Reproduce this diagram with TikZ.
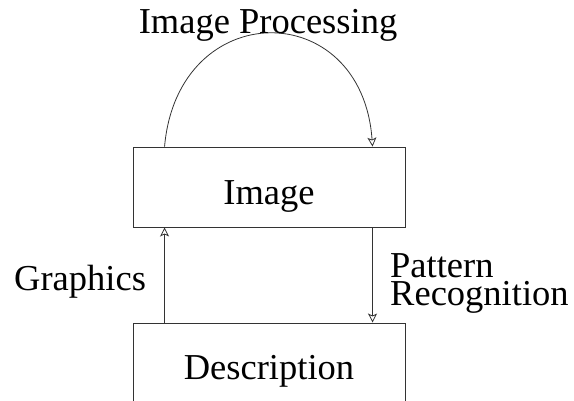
\documentclass[tikz,border=0pt]{standalone}
\usepackage{fontspec}
\setmainfont{Liberation Serif}
\usetikzlibrary{arrows.meta,calc}

\tikzset{
  boxnode/.style={draw=black!80, line width=0.9pt, minimum width=272pt, minimum height=80pt, inner sep=0pt},
  txt/.style={font=\fontsize{36.5}{28}\selectfont, inner sep=0pt},
  link/.style={draw=black!80, line width=0.8pt, -{Stealth[open, length=9pt, width=9pt, inset=2pt]}}
}

\begin{document}
\begin{tikzpicture}[x=1pt, y=-1pt]
  \useasboundingbox (0,0) rectangle (574,400);
  \clip (0,0) rectangle (574,400);

  % the two boxes
  \node[boxnode] (img) at (269,187) {};
  \node[boxnode] (desc) at (269,363) {};

  % box captions
  \node[txt, anchor=base] (imgtxt) at (269,204) {Image};
  \node[txt, anchor=base] (desctxt) at (269,379) {Description};

  % arrow anchor points on the box edges
  \coordinate (imgTL) at ($(img.north west)+(32,0)$);
  \coordinate (imgTR) at ($(img.north west)+(240,0)$);
  \coordinate (imgBL) at ($(img.south west)+(32,0)$);
  \coordinate (imgBR) at ($(img.south west)+(240,0)$);
  \coordinate (descTL) at ($(desc.north west)+(32,0)$);
  \coordinate (descTR) at ($(desc.north west)+(240,0)$);

  % connectors
  \draw[link] (imgTL) .. controls (178,-4) and (362,-4) .. (imgTR);
  \draw[link] (descTL) -- (imgBL);
  \draw[link] (imgBR) -- (descTR);

  % connector labels
  \node[txt, anchor=base] (lproc) at (268,33) {Image Processing};
  \node[txt, anchor=base west] (lgraph) at (14,290) {Graphics};
  \node[txt, anchor=base west] (lpat) at (390,277) {Pattern};
  \node[txt, anchor=base west] (lrec) at (390,305) {Recognition};
\end{tikzpicture}
\end{document}
